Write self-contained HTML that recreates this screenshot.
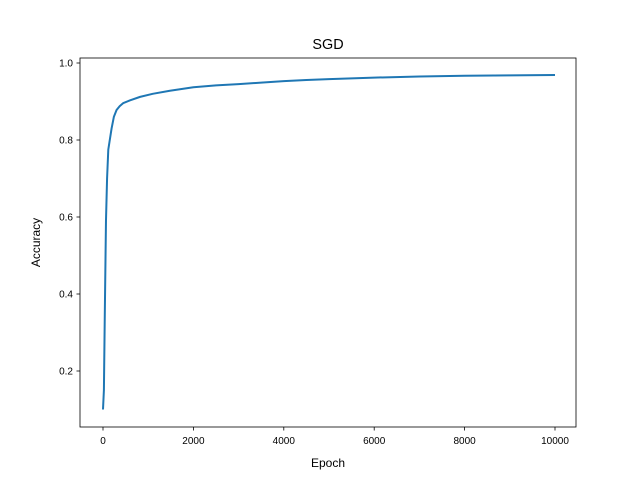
<!DOCTYPE html>
<html><head><meta charset="utf-8"><style>
body{margin:0;background:#fff;}
svg{display:block;font-family:"Liberation Sans","DejaVu Sans",sans-serif;}
</style></head><body>
<svg id="chart" width="640" height="480">
<rect width="640" height="480" fill="#fff"/>
<text x="328" y="49" text-anchor="middle" font-size="14.4">SGD</text>
<g id="plot"></g>
<rect x="80" y="58" width="496" height="369" fill="none" stroke="#000" stroke-width="0.8"/>
<text x="328" y="467" text-anchor="middle" font-size="12">Epoch</text>
<text transform="translate(40,242.5) rotate(-90)" text-anchor="middle" font-size="12">Accuracy</text>
</svg>
<script>
const epochs = [0, 20, 40, 66, 90, 117, 150, 190, 240, 300, 370, 450, 600, 820, 1100, 1480, 2000, 2500, 3000, 3500, 4000, 4500, 5000, 6000, 7000, 8000, 9000, 10000];
const accuracy = [0.1, 0.15, 0.35, 0.59, 0.7, 0.775, 0.8, 0.83, 0.86, 0.878, 0.888, 0.896, 0.903, 0.912, 0.92, 0.928, 0.937, 0.942, 0.945, 0.949, 0.953, 0.956, 0.958, 0.962, 0.965, 0.967, 0.968, 0.969];
const xTicks = [0, 2000, 4000, 6000, 8000, 10000];
const yTicks = [0.2, 0.4, 0.6, 0.8, 1.0];
const xTickLabels = ["0", "2000", "4000", "6000", "8000", "10000"];
const yTickLabels = ["0.2", "0.4", "0.6", "0.8", "1.0"];

const NS = "http://www.w3.org/2000/svg";
function xs(v){ return 103 + v * 0.0452; }
function ys(v){ return 409.5 - (v - 0.1) * 385; }
const g = document.getElementById("plot");
function mk(tag, attrs){ const e = document.createElementNS(NS, tag); for (const k in attrs) e.setAttribute(k, attrs[k]); g.appendChild(e); return e; }

xTicks.forEach((t, i) => {
  const tick = mk("line", {x1: xs(t), x2: xs(t), y1: 427, y2: 430.5, stroke: "#000", "stroke-width": 0.8});
  
  
  const lab = mk("text", {x: xs(t), y: 444, "text-anchor": "middle", "font-size": 10});
  lab.textContent = xTickLabels[i];
  
  
});
yTicks.forEach((t, i) => {
  const tick = mk("line", {x1: 76.5, x2: 80, y1: ys(t), y2: ys(t), stroke: "#000", "stroke-width": 0.8});
  
  
  const lab = mk("text", {x: 73, y: ys(t) + 3.5, "text-anchor": "end", "font-size": 10});
  lab.textContent = yTickLabels[i];
  
  
});
const d = epochs.map((e, i) => (i ? "L" : "M") + xs(e).toFixed(2) + "," + ys(accuracy[i]).toFixed(2)).join(" ");
const line = mk("path", {d: d, fill: "none", stroke: "#1f77b4", "stroke-width": 2, "stroke-linejoin": "round"});


</script>
</body></html>
